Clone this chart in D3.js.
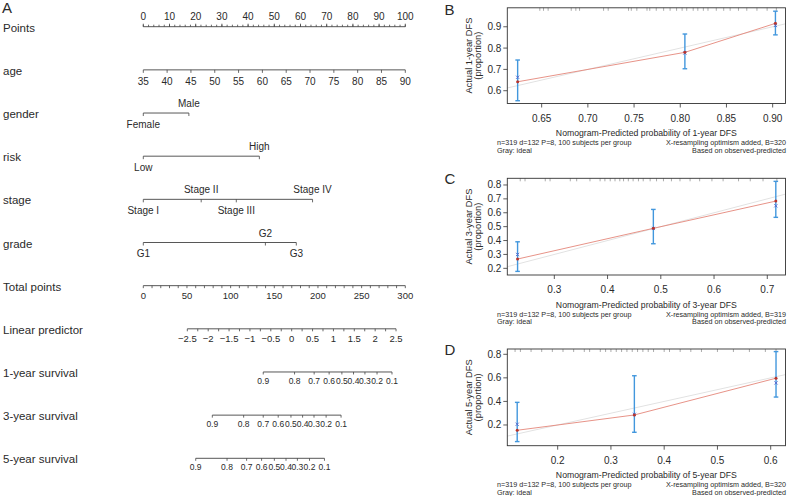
<!DOCTYPE html>
<html><head><meta charset="utf-8">
<script src="https://cdn.jsdelivr.net/npm/d3@7"></script>
<style>
body{margin:0;background:#fff}
svg{display:block}
text{font-family:"Liberation Sans",Arial,Helvetica,sans-serif;fill:#2a2a2a}
</style>
</head><body>
<svg id="chart" width="787" height="496"></svg>
<script>
// ---------------- DATA ----------------
// Nomogram
const rowNames = ["Points","age","gender","risk","stage","grade","Total points","Linear predictor","1-year survival","3-year survival","5-year survival"];
const pointsTicks = [0,10,20,30,40,50,60,70,80,90,100];
const ageTicks = [35,40,45,50,55,60,65,70,75,80,85,90];
const ageRange = [35,90];              // age values spanning 0..100 points
const genderLevels = ["Female","Male"];
const genderPoints = [0,17.4];
const riskLevels = ["Low","High"];
const riskPoints = [0,44.3];
const stageLevels = ["Stage I","Stage II","Stage III","Stage IV"];
const stagePoints = [0,22.1,35.5,64.6];
const gradeLevels = ["G1","G2","G3"];
const gradePoints = [0,46.6,58.4];
const totalTicks = [0,50,100,150,200,250,300];
const lpTicks = [-2.5,-2,-1.5,-1,-0.5,0,0.5,1,1.5,2,2.5];
const lpRange = [-2.5,2.5];
const lpAtTotalPoints = [50.4,289.4];  // total points where lp = -2.5 and 2.5
const survTicks = [0.9,0.8,0.7,0.6,0.5,0.4,0.3,0.2,0.1];
const baselineSurv = [0.812,0.494,0.350]; // S0 at lp=0 for 1-,3-,5-year

// Calibration panels
const calLetters = ["B","C","D"];
const calYears = ["1-year","3-year","5-year"];
const calXTicks = [[0.65,0.70,0.75,0.80,0.85,0.90],[0.3,0.4,0.5,0.6,0.7],[0.2,0.3,0.4,0.5,0.6]];
const calYTicks = [[0.6,0.7,0.8,0.9],[0.2,0.3,0.4,0.5,0.6,0.7,0.8],[0.2,0.4,0.6,0.8]];
const calXDomain = [[0.6128,0.9139],[0.2117,0.7342],[0.1054,0.6278]];
const calYDomain = [[0.540,0.989],[0.152,0.848],[0.024,0.845]];
const calPred = [[0.624,0.805,0.903],[0.231,0.486,0.716],[0.124,0.344,0.610]];
const calObs = [[0.642,0.780,0.916],[0.267,0.488,0.684],[0.155,0.285,0.597]];
const calCorrected = [[0.663,0.777,0.906],[0.300,0.487,0.650],[0.206,0.290,0.557]];
const calLower = [[0.553,0.703,0.862],[0.178,0.377,0.567],[0.059,0.138,0.437]];
const calUpper = [[0.744,0.866,0.973],[0.391,0.624,0.826],[0.392,0.618,0.823]];
const calB = [320,319,320];
const calRug = [
 [0.648,0.652,0.657,0.682,0.687,0.691,0.717,0.722,0.744,0.747,0.753,0.764,0.767,0.774,0.782,0.789,0.796,0.802,0.807,0.814,0.819,0.825,0.830,0.839,0.847,0.854,0.863,0.872,0.883,0.894,0.904],
 [0.236,0.245,0.283,0.292,0.330,0.342,0.367,0.386,0.395,0.405,0.414,0.423,0.430,0.439,0.448,0.458,0.467,0.480,0.492,0.505,0.520,0.536,0.555,0.573,0.596,0.617,0.646,0.668,0.692,0.718],
 [0.120,0.130,0.150,0.170,0.190,0.210,0.230,0.250,0.260,0.280,0.290,0.300,0.310,0.320,0.330,0.340,0.350,0.360,0.370,0.380,0.400,0.410,0.430,0.450,0.470,0.500,0.530,0.560,0.590,0.610]
];

// ---------------- DRAW ----------------
const svg = d3.select("#chart");
const axisColor = "#444";

// Nomogram scales
const rowY = d3.scalePoint().domain(rowNames).range([26.7,458.3]);
const xPts = d3.scaleLinear().domain([0,100]).range([143.3,405.3]);
const xAge = d3.scaleLinear().domain(ageRange).range(xPts.range());
const xTot = d3.scaleLinear().domain([0,300]).range(xPts.range());
const xLP = d3.scaleLinear().domain(lpRange).range(lpAtTotalPoints.map(xTot));

const nomo = svg.append("g");
nomo.append("text").attr("x",2).attr("y",13).attr("font-size",15).text("A");

// row labels
nomo.selectAll("text.row").data(rowNames).join("text")
  .attr("class","row").attr("x",3).attr("y",d=>rowY(d)+1)
  .attr("dominant-baseline","central").attr("font-size",11.5).text(d=>d);

function hline(y,x1,x2){
  nomo.append("line").attr("x1",x1).attr("x2",x2).attr("y1",y).attr("y2",y)
    .attr("stroke",axisColor).attr("stroke-width",0.9);
}
function ticks(y,xs,len){
  nomo.append("g").selectAll("line").data(xs).join("line")
    .attr("x1",d=>d).attr("x2",d=>d).attr("y1",y).attr("y2",y+len)
    .attr("stroke",axisColor).attr("stroke-width",0.8);
}
function labels(y,xs,txt,size){
  nomo.append("g").selectAll("text").data(xs).join("text")
    .attr("x",d=>d).attr("y",y).attr("text-anchor","middle")
    .attr("dominant-baseline","central").attr("font-size",size)
    .text((d,i)=>txt[i]);
}

// Points
{
  const y = rowY("Points");
  hline(y,xPts(0),xPts(100));
  ticks(y,d3.range(0,101,2).map(xPts),-2);
  ticks(y,pointsTicks.map(xPts),-3);
  labels(y-10.5,pointsTicks.map(xPts),pointsTicks.map(String),10);
}
// age
{
  const y = rowY("age");
  hline(y,xAge(ageRange[0]),xAge(ageRange[1]));
  ticks(y,ageTicks.map(xAge),3);
  labels(y+11.5,ageTicks.map(xAge),ageTicks.map(String),10);
}
// categorical rows
function catRow(name,levels,pts){
  const y = rowY(name);
  hline(y,xPts(d3.min(pts)),xPts(d3.max(pts)));
  ticks(y,pts.map(xPts),3);
  nomo.append("g").selectAll("text").data(levels).join("text")
    .attr("x",(d,i)=>xPts(pts[i])).attr("y",(d,i)=> i%2===0 ? y+11 : y-9.5)
    .attr("text-anchor","middle").attr("dominant-baseline","central")
    .attr("font-size",10).text(d=>d);
}
catRow("gender",genderLevels,genderPoints);
catRow("risk",riskLevels,riskPoints);
catRow("stage",stageLevels,stagePoints);
catRow("grade",gradeLevels,gradePoints);

// Total points
{
  const y = rowY("Total points");
  hline(y,xTot(0),xTot(300));
  ticks(y,d3.range(0,301,10).map(xTot),2.5);
  labels(y+9.5,totalTicks.map(xTot),totalTicks.map(String),9.5);
}
// Linear predictor
{
  const y = rowY("Linear predictor");
  hline(y,xLP(lpRange[0]),xLP(lpRange[1]));
  ticks(y,d3.range(-2.5,2.51,0.25).map(xLP),2.5);
  labels(y+9.5,lpTicks.map(xLP),lpTicks.map(v=>String(v).replace("-","\u2212")),9.5);
}
// survival rows
["1-year survival","3-year survival","5-year survival"].forEach((name,k)=>{
  const y = rowY(name);
  const off = Math.log(-Math.log(baselineSurv[k]));
  const xs = survTicks.map(s=>xLP(Math.log(-Math.log(s)) - off));
  hline(y,d3.min(xs),d3.max(xs));
  ticks(y,xs,2.5);
  labels(y+9,xs,survTicks.map(String),8.5);
});

// ---------------- Calibration panels ----------------
const panelBox = [[7.8,103.5],[178.3,275],[349,445.7]];
const boxX = [507.3,785.5];
const letterY = [9,178.5,349.5];

calLetters.forEach((L,k)=>{
  const g = svg.append("g");
  const [top,bot] = panelBox[k];
  const x = d3.scaleLinear().domain(calXDomain[k]).range(boxX);
  const y = d3.scaleLinear().domain(calYDomain[k]).range([bot,top]);
  const dec = k===0 ? 2 : 1;

  g.append("text").attr("x",444.5).attr("y",letterY[k]).attr("dominant-baseline","central")
    .attr("font-size",15).text(L);

  // ideal line (gray)
  const lo = Math.max(calXDomain[k][0],calYDomain[k][0]);
  const hi = Math.min(calXDomain[k][1],calYDomain[k][1]);
  g.append("line").attr("x1",x(lo)).attr("y1",y(lo)).attr("x2",x(hi)).attr("y2",y(hi))
    .attr("stroke","#e2e2e2").attr("stroke-width",1);

  // rug at top
  g.append("g").selectAll("line").data(calRug[k]).join("line")
    .attr("x1",d=>x(d)).attr("x2",d=>x(d)).attr("y1",top).attr("y2",top+3)
    .attr("stroke","#888").attr("stroke-width",0.7);

  // observed line
  const pts = calPred[k].map((p,i)=>[x(p),y(calObs[k][i])]);
  g.append("path").attr("d",d3.line()(pts)).attr("fill","none")
    .attr("stroke","#e4877a").attr("stroke-width",0.9);

  // error bars
  calPred[k].forEach((p,i)=>{
    const xx = x(p);
    const e = g.append("g").attr("stroke","#4297dd").attr("stroke-width",1.4);
    e.append("line").attr("x1",xx).attr("x2",xx).attr("y1",y(calLower[k][i])).attr("y2",y(calUpper[k][i]));
    e.append("line").attr("x1",xx-2.3).attr("x2",xx+2.3).attr("y1",y(calLower[k][i])).attr("y2",y(calLower[k][i]));
    e.append("line").attr("x1",xx-2.3).attr("x2",xx+2.3).attr("y1",y(calUpper[k][i])).attr("y2",y(calUpper[k][i]));
  });
  // bias-corrected x markers
  calPred[k].forEach((p,i)=>{
    const xx = x(p), yy = y(calCorrected[k][i]);
    g.append("path").attr("d",`M${xx-1.6},${yy-1.6}L${xx+1.6},${yy+1.6}M${xx-1.6},${yy+1.6}L${xx+1.6},${yy-1.6}`)
      .attr("stroke","#5566cc").attr("stroke-width",0.9);
  });
  // observed points
  g.append("g").selectAll("circle").data(pts).join("circle")
    .attr("cx",d=>d[0]).attr("cy",d=>d[1]).attr("r",1.5).attr("fill","#b8342c");

  // box
  g.append("rect").attr("x",boxX[0]).attr("y",top).attr("width",boxX[1]-boxX[0]).attr("height",bot-top)
    .attr("fill","none").attr("stroke","#333").attr("stroke-width",0.9);

  // x axis
  g.append("g").selectAll("line").data(calXTicks[k]).join("line")
    .attr("x1",d=>x(d)).attr("x2",d=>x(d)).attr("y1",bot).attr("y2",bot+4)
    .attr("stroke","#333").attr("stroke-width",0.8);
  g.append("g").selectAll("text").data(calXTicks[k]).join("text")
    .attr("x",d=>x(d)).attr("y",bot+14.5).attr("text-anchor","middle")
    .attr("dominant-baseline","central").attr("font-size",10)
    .text(d=>d3.format(`.${dec}f`)(d));
  // y axis
  g.append("g").selectAll("line").data(calYTicks[k]).join("line")
    .attr("x1",boxX[0]-4).attr("x2",boxX[0]).attr("y1",d=>y(d)).attr("y2",d=>y(d))
    .attr("stroke","#333").attr("stroke-width",0.8);
  g.append("g").selectAll("text").data(calYTicks[k]).join("text")
    .attr("x",boxX[0]-6).attr("y",d=>y(d)).attr("text-anchor","end")
    .attr("dominant-baseline","central").attr("font-size",10)
    .text(d=>d3.format(".1f")(d));

  const cy = (top+bot)/2, cx = (boxX[0]+boxX[1])/2;
  g.append("text").attr("transform",`translate(468.5,${cy}) rotate(-90)`)
    .attr("text-anchor","middle").attr("dominant-baseline","central").attr("font-size",9.3)
    .text(`Actual ${calYears[k]} DFS`);
  g.append("text").attr("transform",`translate(477.5,${cy}) rotate(-90)`)
    .attr("text-anchor","middle").attr("dominant-baseline","central").attr("font-size",9.3)
    .text("(proportion)");

  g.append("text").attr("x",cx).attr("y",bot+29.5).attr("text-anchor","middle")
    .attr("dominant-baseline","central").attr("font-size",8.7)
    .text(`Nomogram-Predicted probability of ${calYears[k]} DFS`);

  const f1 = bot+39, f2 = bot+46.5;
  g.append("text").attr("x",497).attr("y",f1).attr("dominant-baseline","central").attr("font-size",7.2)
    .text("n=319 d=132 P=8, 100 subjects per group");
  g.append("text").attr("x",497).attr("y",f2).attr("dominant-baseline","central").attr("font-size",7.2)
    .text("Gray: ideal");
  g.append("text").attr("x",786).attr("y",f1).attr("text-anchor","end").attr("dominant-baseline","central").attr("font-size",7.2)
    .text(`X-resampling optimism added, B=${calB[k]}`);
  g.append("text").attr("x",786).attr("y",f2).attr("text-anchor","end").attr("dominant-baseline","central").attr("font-size",7.2)
    .text("Based on observed-predicted");
});
</script>
</body></html>
